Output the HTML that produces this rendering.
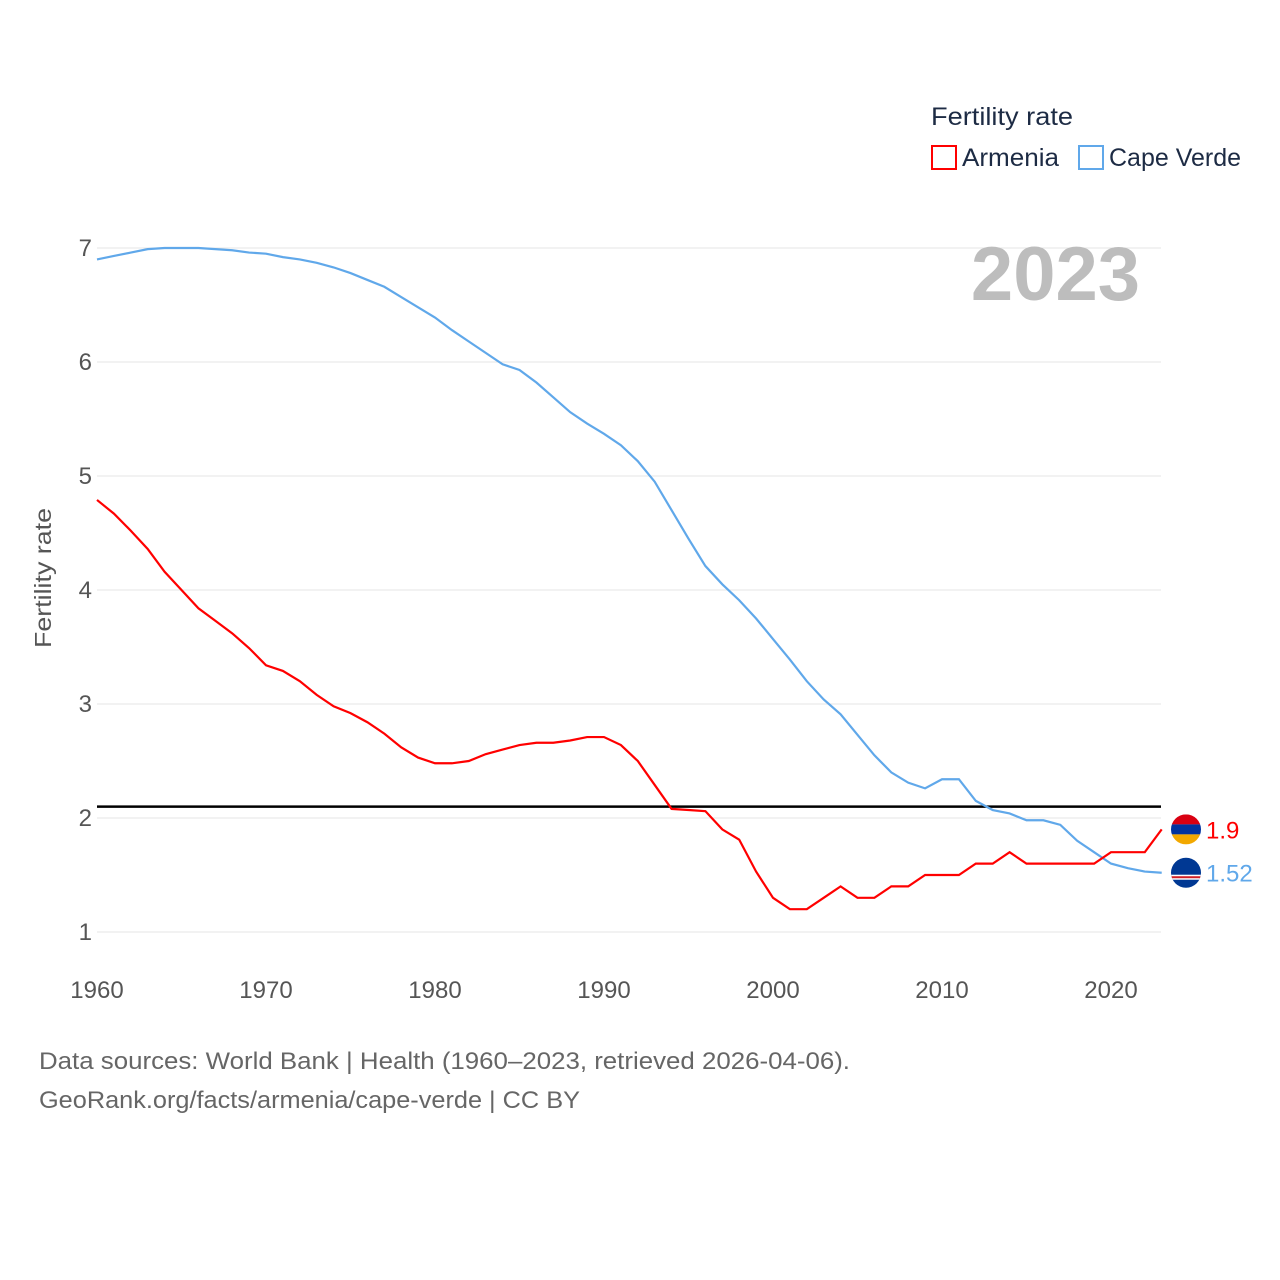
<!DOCTYPE html>
<html><head><meta charset="utf-8"><style>
html,body{margin:0;padding:0;background:#fff;width:1280px;height:1280px;overflow:hidden;font-family:"Liberation Sans",sans-serif}
</style></head><body>
<svg id="chart" width="1280" height="1280" xmlns="http://www.w3.org/2000/svg" style="font-family:'Liberation Sans',sans-serif">
<g id="grid"></g>
<g id="yticks"></g>
<g id="xticks"></g>
<text transform="translate(51,578) rotate(-90)" text-anchor="middle" font-size="23" fill="#555" textLength="140" lengthAdjust="spacingAndGlyphs">Fertility rate</text>
<text x="1140" y="300" text-anchor="end" font-size="76" font-weight="bold" fill="#bdbdbd">2023</text>
<g>
<text x="931" y="125" font-size="25" fill="#1d2b44" textLength="142" lengthAdjust="spacingAndGlyphs">Fertility rate</text>
<rect x="932" y="146" width="24" height="23" fill="none" stroke="#f00" stroke-width="2"/>
<text x="962" y="166" font-size="25" fill="#1d2b44" textLength="97" lengthAdjust="spacingAndGlyphs">Armenia</text>
<rect x="1079" y="146" width="24" height="23" fill="none" stroke="#60a8ea" stroke-width="2"/>
<text x="1109" y="166" font-size="25" fill="#1d2b44" textLength="132" lengthAdjust="spacingAndGlyphs">Cape Verde</text>
</g>
<g id="series"></g>
<text x="39" y="1069" font-size="24" fill="#666" textLength="811" lengthAdjust="spacingAndGlyphs">Data sources: World Bank | Health (1960–2023, retrieved 2026-04-06).</text>
<text x="39" y="1108" font-size="24" fill="#666" textLength="541" lengthAdjust="spacingAndGlyphs">GeoRank.org/facts/armenia/cape-verde | CC BY</text>
</svg>
<script>
const years = [];
for (let y = 1960; y <= 2023; y++) years.push(y);
const armenia = [4.79,4.67,4.52,4.36,4.16,4.0,3.84,3.73,3.62,3.49,3.34,3.29,3.20,3.08,2.98,2.92,2.84,2.74,2.62,2.53,2.48,2.48,2.50,2.56,2.60,2.64,2.66,2.66,2.68,2.71,2.71,2.64,2.50,2.29,2.08,2.07,2.06,1.90,1.81,1.53,1.30,1.20,1.20,1.30,1.40,1.30,1.30,1.40,1.40,1.50,1.50,1.50,1.60,1.60,1.70,1.60,1.60,1.60,1.60,1.60,1.70,1.70,1.70,1.90];
const capeVerde = [6.90,6.93,6.96,6.99,7.00,7.00,7.00,6.99,6.98,6.96,6.95,6.92,6.90,6.87,6.83,6.78,6.72,6.66,6.57,6.48,6.39,6.28,6.18,6.08,5.98,5.93,5.82,5.69,5.56,5.46,5.37,5.27,5.13,4.95,4.70,4.45,4.21,4.05,3.91,3.75,3.57,3.39,3.20,3.04,2.91,2.73,2.55,2.40,2.31,2.26,2.34,2.34,2.15,2.07,2.04,1.98,1.98,1.94,1.80,1.70,1.60,1.56,1.53,1.52];
const yTicks = [1,2,3,4,5,6,7];
const xTicks = [1960,1970,1980,1990,2000,2010,2020];
const replacement = [2.1];
const lastLabels = ["1.9","1.52"];

const NS = "http://www.w3.org/2000/svg";
const xs = v => 97 + (v - 1960) * 16.9;
const ys = v => 932 - (v - 1) * 114;
function mk(tag, attrs, parent){const e=document.createElementNS(NS,tag);for(const k in attrs)e.setAttribute(k,attrs[k]);parent.appendChild(e);return e;}
const grid=document.getElementById('grid'), yt=document.getElementById('yticks'), xt=document.getElementById('xticks'), ser=document.getElementById('series');
yTicks.forEach(t=>{
  const l=mk('line',{x1:97,x2:1161,y1:ys(t),y2:ys(t),stroke:'#e6e6e6','stroke-width':1},grid);
  
  
  const tx=mk('text',{x:92,y:ys(t)+8,'text-anchor':'end','font-size':24,fill:'#555'},yt);
  tx.textContent=t;
  
  
});
xTicks.forEach(t=>{
  const tx=mk('text',{x:xs(t),y:998,'text-anchor':'middle','font-size':24,fill:'#555'},xt);
  tx.textContent=t;
  
  
});
const rl=mk('line',{x1:97,x2:1161,y1:ys(replacement[0]),y2:ys(replacement[0]),stroke:'#000','stroke-width':2.5},ser);


function line(vals,color,name){
  const p=mk('polyline',{points:vals.map((v,i)=>xs(years[i])+','+ys(v)).join(' '),fill:'none',stroke:color,'stroke-width':2.2},ser);
  
  
}
line(capeVerde,'#60a8ea','cape-verde-line');
line(armenia,'#f00','armenia-line');
const ax=1186, ay=ys(armenia[armenia.length-1]);
const g1=mk('g',{},ser);


mk('defs',{},g1).innerHTML='<clipPath id="c1"><circle cx="'+ax+'" cy="'+ay+'" r="15"/></clipPath><clipPath id="c2"><circle cx="'+ax+'" cy="'+ys(capeVerde[capeVerde.length-1])+'" r="15"/></clipPath>';
mk('rect',{x:ax-15,y:ay-15,width:30,height:10,fill:'#d90012','clip-path':'url(#c1)'},g1);
mk('rect',{x:ax-15,y:ay-5,width:30,height:10,fill:'#0033a0','clip-path':'url(#c1)'},g1);
mk('rect',{x:ax-15,y:ay+5,width:30,height:10,fill:'#f2a800','clip-path':'url(#c1)'},g1);
const cx=1186, cy=ys(capeVerde[capeVerde.length-1]);
const g2=mk('g',{},ser);


mk('circle',{cx:cx,cy:cy,r:15,fill:'#003893'},g2);
mk('rect',{x:cx-15,y:cy+2,width:30,height:5,fill:'#fff','clip-path':'url(#c2)'},g2);
mk('rect',{x:cx-15,y:cy+3.5,width:30,height:2,fill:'#cf2027','clip-path':'url(#c2)'},g2);
const t1=mk('text',{x:1206,y:ay+9,'font-size':24,fill:'#f00'},ser);
t1.textContent=lastLabels[0];


const t2=mk('text',{x:1206,y:cy+9,'font-size':24,fill:'#60a8ea'},ser);
t2.textContent=lastLabels[1];


</script>
</body></html>
